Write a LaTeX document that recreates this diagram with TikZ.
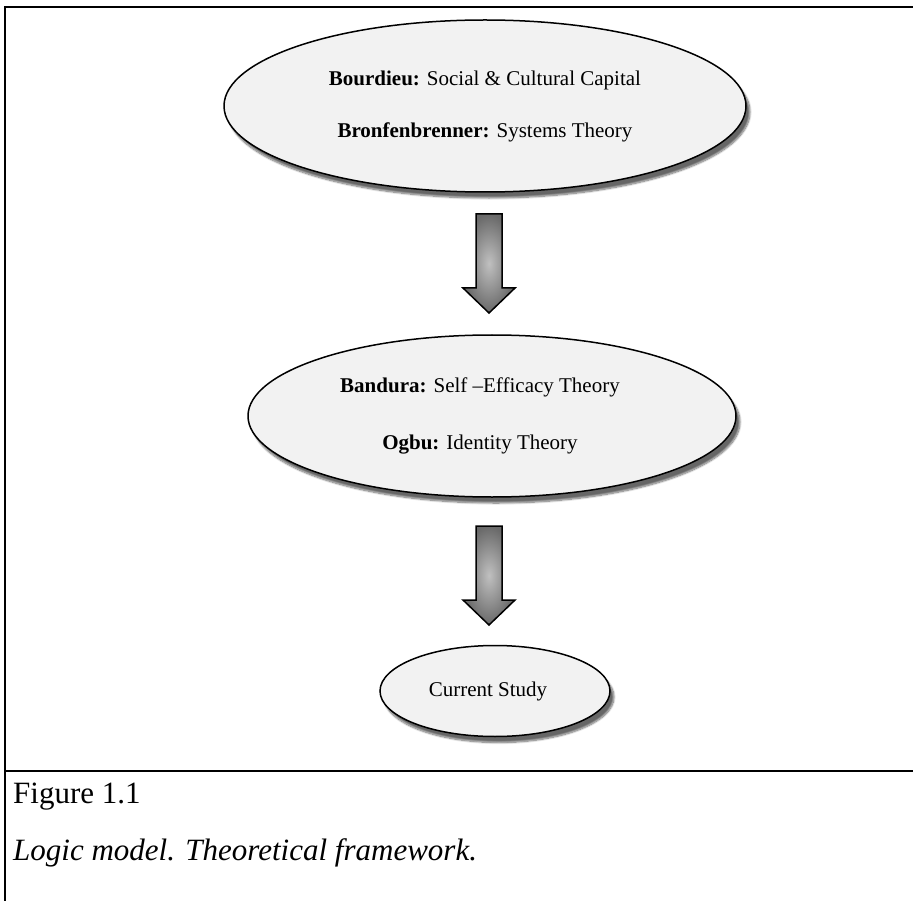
\documentclass[tikz,border=0pt]{standalone}
\usepackage{fontspec}
\setmainfont{Liberation Serif}
\usetikzlibrary{shapes.geometric,shadows.blur}
\definecolor{ellfill}{RGB}{242,242,242}
\definecolor{arrowlight}{RGB}{192,192,192}
\definecolor{arrowdark}{RGB}{105,105,105}
\tikzset{
  theory/.style={ellipse, draw=black, line width=1.5pt, fill=ellfill, inner sep=0pt,
    align=center, font=\fontsize{21}{26}\selectfont,
    blur shadow={shadow xshift=4pt, shadow yshift=-6pt, shadow blur steps=10, shadow opacity=60}},
  blockarrow/.style={draw=black, line width=1.5pt, line join=miter,
    inner color=arrowlight, outer color=arrowdark},
  frameline/.style={line width=2.6pt, line cap=rect},
  captext/.style={anchor=west, inner sep=0pt, font=\fontsize{31}{36}\selectfont}
}
\begin{document}
\begin{tikzpicture}[x=1pt,y=1pt]
\useasboundingbox (0,0) rectangle (913,-901);
% frame
\coordinate (tl) at (5,-7);
\coordinate (tr) at (913,-7);
\coordinate (ml) at (5,-771);
\coordinate (mr) at (913,-771);
\coordinate (bl) at (5,-901);
\draw[frameline] (tr) -- (tl) -- (bl);
\draw[frameline] (ml) -- (mr);
% ellipses
\node[theory, minimum width=522pt, minimum height=172pt] (e1) at (485,-106)
  {\textbf{Bourdieu:} Social \& Cultural Capital\\[26pt]\textbf{Bronfenbrenner:} Systems Theory};
\node[theory, minimum width=488pt, minimum height=162pt] (e2) at (492,-416)
  {\textbf{Bandura:} Self –Efficacy Theory\hspace*{24pt}\\[31pt]\textbf{Ogbu:} Identity Theory\hspace*{24pt}};
\node[theory, minimum width=230pt, minimum height=91pt] (e3) at (495,-691)
  {Current Study\hspace*{14pt}};
% block arrows
\coordinate (a1) at (489,-214);
\coordinate (a2) at (489,-526);
\shade[blockarrow] (a1) ++(-13,0) -- ++(26,0) -- ++(0,-74) -- ++(13,0) -- ++(-26,-25)
  -- ++(-26,25) -- ++(13,0) -- cycle;
\shade[blockarrow] (a2) ++(-13,0) -- ++(26,0) -- ++(0,-74) -- ++(13,0) -- ++(-26,-25)
  -- ++(-26,25) -- ++(13,0) -- cycle;
% caption
\node[captext] (fig) at (13,-797) {Figure 1.1};
\node[captext] (cap) at (13,-853) {\itshape Logic model. Theoretical framework.};
\end{tikzpicture}
\end{document}
